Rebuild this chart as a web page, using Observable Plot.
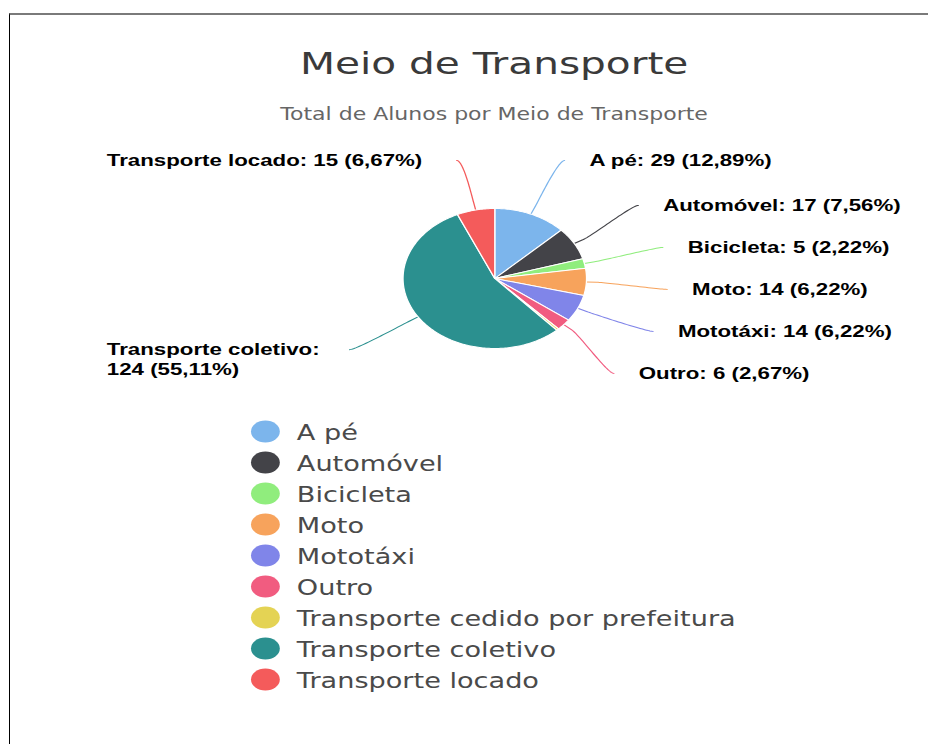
<!DOCTYPE html>
<html>
<head>
<meta charset="utf-8">
<script src="https://cdn.jsdelivr.net/npm/d3@7"></script>
<script src="https://cdn.jsdelivr.net/npm/@observablehq/plot@0.6"></script>
<style>
  html, body { margin: 0; padding: 0; background: #fff; width: 928px; height: 744px; overflow: hidden; }
  #frame { position: absolute; left: 9px; top: 13px; width: 919px; height: 731px; box-sizing: border-box;
           border-top: 2px solid #7a7a7a; border-left: 1px solid #000; }
  #stage { position: absolute; left: 0; top: 0; width: 754px; height: 744px;
           transform: scaleX(1.3107); transform-origin: 0 0; }
  .ttl { position: absolute; left: 0; width: 754px; text-align: center; white-space: nowrap;
         font-family: "DejaVu Sans", sans-serif; }
  #t1 { top: 48px; font-size: 31px; line-height: 31px; color: #3a3a3a; }
  #t2 { top: 106px; font-size: 16.8px; line-height: 16.8px; color: #666; }
  #pie { position: absolute; left: 0; top: 135px; }
  #legend { position: absolute; left: 0; top: 405px; }
  svg { overflow: visible; }
</style>
</head>
<body>
<div id="frame"></div>
<div id="stage">
  <div class="ttl" id="t1">Meio de Transporte</div>
  <div class="ttl" id="t2">Total de Alunos por Meio de Transporte</div>
  <div id="pie"></div>
  <div id="legend"></div>
</div>
<script>
// ---- data ----
const categories = ["A pé", "Automóvel", "Bicicleta", "Moto", "Mototáxi", "Outro",
  "Transporte cedido por prefeitura", "Transporte coletivo", "Transporte locado"];
const values = [29, 17, 5, 14, 14, 6, 1, 124, 15];
const colors = ["#7cb5ec", "#434348", "#90ed7d", "#f7a35c", "#8085e9", "#f15c80",
  "#e4d354", "#2b908f", "#f45b5b"];
const hiddenLabels = ["Transporte cedido por prefeitura"]; // label hidden (overlap) in the original

// ---- layout ----
const W = 754, H = 270, cyTop = 143;
const r = 70, R = 130, gap = 42, topLimit = -118, leftEdge = -296;
const total = d3.sum(values);
const rows = categories.map((cat, i) => ({cat, value: values[i]}));
const colorScale = {domain: categories, range: colors};

const slices = d3.pie().sort(null).value(d => d.value)(rows);

// slice polygons
const piePts = [];
for (const s of slices) {
  const cat = s.data.cat;
  const n = Math.max(2, Math.ceil((s.endAngle - s.startAngle) / (Math.PI / 180)));
  piePts.push({cat, x: 0, y: 0});
  for (let k = 0; k <= n; k++) {
    const a = s.startAngle + (s.endAngle - s.startAngle) * k / n;
    piePts.push({cat, x: r * Math.sin(a), y: -r * Math.cos(a)});
  }
  piePts.push({cat, x: 0, y: 0});
}

// labels
const fmt = v => (v / total * 100).toFixed(2).replace(".", ",") + "%";
const labels = slices.filter(s => !hiddenLabels.includes(s.data.cat)).map(s => {
  const a = (s.startAngle + s.endAngle) / 2;
  return {cat: s.data.cat, value: s.data.value, a,
          side: Math.sin(a) >= 0 ? 1 : -1, ny: -R * Math.cos(a)};
});

function distribute(items) {
  items.sort((p, q) => p.ny - q.ny);
  const place = c => { c.top = c.mean - (c.items.length - 1) * gap / 2; return c; };
  let clusters = items.map(d => place({items: [d], mean: d.ny}));
  let merged = true;
  while (merged) {
    merged = false;
    for (let i = 0; i < clusters.length - 1; i++) {
      const A = clusters[i], B = clusters[i + 1];
      const aBottom = A.top + (A.items.length - 1) * gap;
      if (B.top - aBottom < gap) {
        const its = [...A.items, ...B.items];
        clusters.splice(i, 2, place({items: its, mean: d3.mean(its, d => d.ny)}));
        merged = true;
        break;
      }
    }
  }
  clusters.forEach(c => c.items.forEach((d, k) => d.dy = c.top + k * gap));
}
distribute(labels.filter(d => d.side > 0));
distribute(labels.filter(d => d.side < 0));

const connPts = [];
for (const d of labels) {
  const s = d.side;
  const xo = Math.sqrt(Math.max(0, R * R - d.dy * d.dy));
  d.ly = Math.max(d.dy, topLimit);
  d.lx = s > 0 ? xo + 21 : leftEdge;
  let txt = `${d.cat}: ${d.value} (${fmt(d.value)})`;
  if (s < 0 && txt.length > 30) txt = `${d.cat}:\n${d.value} (${fmt(d.value)})`;
  d.label = txt;
  const T = [r * Math.sin(d.a), -r * Math.cos(d.a)];
  const B = [(r + 8) * Math.sin(d.a), -(r + 8) * Math.cos(d.a)];
  const P0 = [s * (xo + 2), d.ly], P1 = [s * (xo - 3), d.ly], P2 = [2 * B[0] - T[0], 2 * B[1] - T[1]], P3 = B;
  const N = 30;
  for (let k = 0; k <= N; k++) {
    const t = k / N, u = 1 - t;
    const x = u*u*u*P0[0] + 3*u*u*t*P1[0] + 3*u*t*t*P2[0] + t*t*t*P3[0];
    const y = u*u*u*P0[1] + 3*u*u*t*P1[1] + 3*u*t*t*P2[1] + t*t*t*P3[1];
    connPts.push({cat: d.cat, x, y});
  }
  connPts.push({cat: d.cat, x: T[0], y: T[1]});
}

const labelFont = {fontFamily: "Liberation Sans, Arial, sans-serif", fontWeight: "bold", fontSize: 17,
                   fill: "#000", lineAnchor: "top", dy: -9, lineHeight: 1.18};

const pie = Plot.plot({
  width: W, height: H, margin: 0,
  x: {domain: [-W / 2, W / 2], range: [0, W], axis: null},
  y: {domain: [-cyTop, H - cyTop], range: [0, H], axis: null},
  color: colorScale,
  marks: [
    Plot.line(connPts, {x: "x", y: "y", z: "cat", stroke: "cat", strokeWidth: 1, curve: "linear"}),
    Plot.line(piePts, {x: "x", y: "y", z: "cat", fill: "cat", stroke: "white", strokeWidth: 1, strokeLinejoin: "round"}),
    Plot.text(labels.filter(d => d.side > 0), {x: "lx", y: "ly", text: "label", textAnchor: "start", ...labelFont}),
    Plot.text(labels.filter(d => d.side < 0), {x: "lx", y: "ly", text: "label", textAnchor: "start", ...labelFont})
  ]
});
document.getElementById("pie").appendChild(pie);

const legend = Plot.plot({
  width: W, height: 300, margin: 0,
  y: {type: "point", domain: categories, range: [23.3, 277.3], padding: 0, axis: null},
  color: colorScale,
  marks: [
    Plot.dot(categories, {y: d => d, fill: d => d, r: 11, frameAnchor: "left", dx: 202}),
    Plot.text(categories, {y: d => d, text: d => d, frameAnchor: "left", dx: 226, dy: 1.5,
      textAnchor: "start", lineAnchor: "middle", fontFamily: "DejaVu Sans, sans-serif", fontSize: 20.7, fill: "#4a4a4a"})
  ]
});
document.getElementById("legend").appendChild(legend);
</script>
</body>
</html>
